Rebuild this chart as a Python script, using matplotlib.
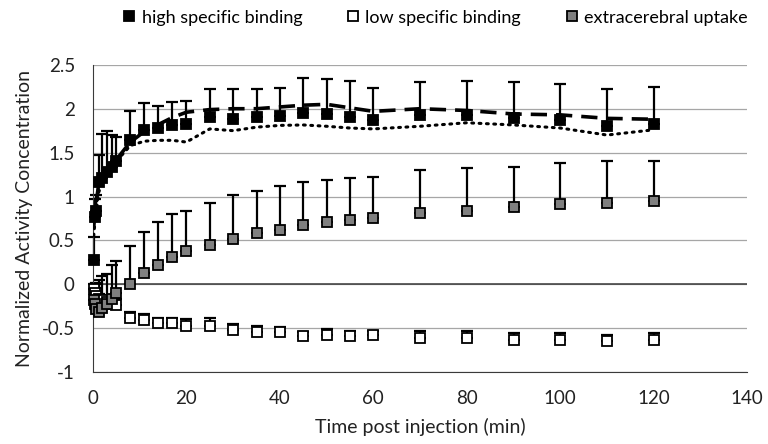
import numpy as np
import matplotlib
matplotlib.use("Agg")
import matplotlib.pyplot as plt

plt.rcParams['font.family'] = ['Lato', 'DejaVu Sans']

# Data
time_min = [0.17, 0.5, 0.75, 1.25, 2, 3, 4, 5, 8, 11, 14, 17, 20, 25, 30, 35,
            40, 45, 50, 55, 60, 70, 80, 90, 100, 110, 120]

high = [0.28, 0.77, 0.83, 1.17, 1.21, 1.28, 1.34, 1.40, 1.64, 1.76, 1.78, 1.81,
        1.83, 1.90, 1.88, 1.91, 1.92, 1.95, 1.94, 1.91, 1.87, 1.93, 1.93, 1.89,
        1.87, 1.80, 1.83]
high_err = [0.26, 0.20, 0.19, 0.30, 0.50, 0.47, 0.36, 0.28, 0.33, 0.30, 0.25,
            0.27, 0.26, 0.32, 0.35, 0.32, 0.32, 0.40, 0.40, 0.41, 0.37, 0.38,
            0.39, 0.41, 0.41, 0.43, 0.42]

low = [-0.05, -0.10, -0.13, -0.17, -0.18, -0.20, -0.22, -0.24, -0.38, -0.41,
       -0.44, -0.44, -0.47, -0.475, -0.525, -0.54, -0.54, -0.59, -0.575, -0.59,
       -0.58, -0.61, -0.61, -0.63, -0.63, -0.65, -0.63]
low_err = [0.05, 0.06, 0.05, 0.06, 0.06, 0.07, 0.06, 0.07, 0.07, 0.07, 0.06,
           0.06, 0.08, 0.09, 0.07, 0.06, 0.05, 0.05, 0.06, 0.06, 0.05, 0.08,
           0.08, 0.08, 0.07, 0.07, 0.07]

extra = [-0.18, -0.22, -0.28, -0.31, -0.27, -0.22, -0.17, -0.10, 0.0, 0.13,
         0.22, 0.31, 0.38, 0.445, 0.52, 0.58, 0.62, 0.68, 0.71, 0.73, 0.75,
         0.81, 0.84, 0.875, 0.91, 0.93, 0.95]
extra_err = [0.13, 0.22, 0.30, 0.36, 0.37, 0.34, 0.39, 0.37, 0.44, 0.46, 0.49,
             0.49, 0.46, 0.485, 0.50, 0.48, 0.50, 0.48, 0.48, 0.48, 0.47, 0.49,
             0.48, 0.465, 0.47, 0.48, 0.46]

# unlabelled curves (dashed and dotted)
dashed = [0.65, 0.85, 0.95, 1.15, 1.22, 1.30, 1.36, 1.42, 1.62, 1.74, 1.82,
          1.90, 1.96, 1.99, 2.00, 2.00, 2.02, 2.04, 2.05, 2.01, 1.97, 2.00,
          1.98, 1.94, 1.93, 1.89, 1.88]
dotted = [0.55, 0.75, 0.85, 1.05, 1.15, 1.25, 1.33, 1.40, 1.58, 1.63, 1.64,
          1.64, 1.62, 1.77, 1.75, 1.79, 1.81, 1.815, 1.80, 1.78, 1.77, 1.80,
          1.84, 1.815, 1.78, 1.70, 1.76]

fig = plt.figure(figsize=(7.68, 4.44), dpi=100)
ax = fig.add_axes([0.121, 0.162, 0.852, 0.692])

ax.set_xlim(0, 140)
ax.set_ylim(-1, 2.5)
ax.set_xticks(np.arange(0, 141, 20))
ax.set_yticks(np.arange(-1, 2.51, 0.5))
ax.set_yticklabels(["-1", "-0.5", "0", "0.5", "1", "1.5", "2", "2.5"])
ax.yaxis.grid(True, color="#a6a6a6", lw=0.9)
ax.set_axisbelow(True)
ax.axhline(0, color="#3a3a3a", lw=1.1, zorder=1)
for s in ["top", "right"]:
    ax.spines[s].set_visible(False)
ax.spines["left"].set_color("#3a3a3a")
ax.spines["bottom"].set_color("#3a3a3a")
ax.tick_params(length=0, labelsize=13.5, colors="#222222")
ax.tick_params(axis="x", pad=13)
ax.tick_params(axis="y", pad=13)

errkw = dict(fmt="none", ecolor="black", elinewidth=1.6, capsize=4,
             capthick=1.6, zorder=2, clip_on=False)
z = [0] * len(time_min)
ax.errorbar(time_min, high, yerr=[z, high_err], **errkw)
ax.errorbar(time_min, low, yerr=[z, low_err], **errkw)
ax.errorbar(time_min, extra, yerr=[z, extra_err], **errkw)

ax.plot(time_min, dotted, color="black", lw=2.2, ls=(0, (0.6, 1.8)),
        dash_capstyle="round", zorder=3)
ax.plot(time_min, dashed, color="black", lw=2.6, ls=(0, (4.5, 2.5)), zorder=3)

mk = dict(ls="none", marker="s", markersize=7.5, markeredgecolor="black",
          markeredgewidth=1.3, zorder=4, clip_on=False)
ax.plot(time_min, high, markerfacecolor="black", label="high specific binding", **mk)
ax.plot(time_min, low, markerfacecolor="white", label="low specific binding", **mk)
ax.plot(time_min, extra, markerfacecolor="#808080", label="extracerebral uptake", **mk)

ax.set_xlabel("Time post injection (min)", fontsize=14, color="#222222",
              labelpad=8)
ax.set_ylabel("Normalized Activity Concentration", fontsize=14,
              color="#222222")
ax.yaxis.set_label_coords(-0.092, 0.5)

fig.legend(loc="upper center", bbox_to_anchor=(0.565, 1.015), ncol=3,
           frameon=False, fontsize=13, handletextpad=0.2, columnspacing=2.3,
           handlelength=1.0)

fig.savefig("out.png", dpi=100)
